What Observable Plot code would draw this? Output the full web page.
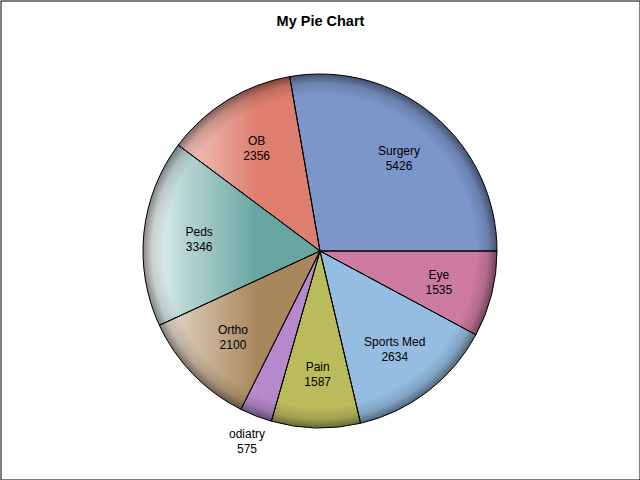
<!DOCTYPE html>
<html>
<head>
<meta charset="utf-8">
<script src="https://cdn.jsdelivr.net/npm/d3@7"></script>
<script src="https://cdn.jsdelivr.net/npm/@observablehq/plot@0.6"></script>
<style>
  body { margin: 0; background: #fff; }
  #chart { width: 640px; height: 480px; }
</style>
</head>
<body>
<div id="chart"></div>
<script>
const title = "My Pie Chart";
const categories = ["Surgery", "OB", "Peds", "Ortho", "odiatry", "Pain", "Sports Med", "Eye"];
const values = [5426, 2356, 3346, 2100, 575, 1587, 2634, 1535];
const colors = ["#7C95CA", "#DE7E6F", "#66A5A0", "#A9865B", "#B689CD", "#BABC5C", "#94BDE1", "#CD7BA1"];

const R = 177;          // pie radius in data units
const labelIn = 122;    // inside label radius
const labelOut = 203;   // outside label radius

const rows = categories.map((c, i) => ({category: c, value: values[i]}));
const total = d3.sum(values);
const arcs = d3.pie().sort(null).value(d => d.value)
  .startAngle(Math.PI / 2).endAngle(Math.PI / 2 - 2 * Math.PI)(rows);

const labels = arcs.map(a => {
  const mid = (a.startAngle + a.endAngle) / 2;
  const rl = a.data.value / total < 0.05 ? labelOut : labelIn;
  return {x: rl * Math.sin(mid), y: rl * Math.cos(mid), text: a.data.category + "\n" + a.data.value};
});

const color = d3.scaleOrdinal(categories, colors);

function pieMark(index, scales, values, dimensions, context) {
  const cx = scales.x(0), cy = scales.y(0);
  const r = scales.x(R) - scales.x(0);
  const g = d3.create("svg:g");
  const defs = g.append("defs");
  const hl = defs.append("linearGradient").attr("id", "pie-hl")
    .attr("gradientUnits", "userSpaceOnUse")
    .attr("x1", cx - r).attr("y1", cy).attr("x2", cx - 0.35 * r).attr("y2", cy);
  hl.append("stop").attr("offset", 0).attr("stop-color", "#fff").attr("stop-opacity", 0.95);
  hl.append("stop").attr("offset", 0.35).attr("stop-color", "#fff").attr("stop-opacity", 0.55);
  hl.append("stop").attr("offset", 1).attr("stop-color", "#fff").attr("stop-opacity", 0);
  const rim = defs.append("radialGradient").attr("id", "pie-rim")
    .attr("gradientUnits", "userSpaceOnUse")
    .attr("cx", cx).attr("cy", cy).attr("r", r);
  rim.append("stop").attr("offset", 0.88).attr("stop-color", "#000").attr("stop-opacity", 0);
  rim.append("stop").attr("offset", 0.95).attr("stop-color", "#000").attr("stop-opacity", 0.14);
  rim.append("stop").attr("offset", 0.975).attr("stop-color", "#000").attr("stop-opacity", 0.3);
  rim.append("stop").attr("offset", 1).attr("stop-color", "#000").attr("stop-opacity", 0.45);

  const arc = d3.arc().innerRadius(0).outerRadius(r);
  const pg = g.append("g").attr("transform", `translate(${cx},${cy})`);
  pg.selectAll("path").data(arcs).join("path")
    .attr("d", arc).attr("fill", d => color(d.data.category));
  g.append("circle").attr("cx", cx).attr("cy", cy).attr("r", r).attr("fill", "url(#pie-hl)");
  g.append("circle").attr("cx", cx).attr("cy", cy).attr("r", r).attr("fill", "url(#pie-rim)");
  const og = g.append("g").attr("transform", `translate(${cx},${cy})`);
  og.selectAll("path").data(arcs).join("path")
    .attr("d", arc).attr("fill", "none").attr("stroke", "#000")
    .attr("stroke-width", 1).attr("stroke-linejoin", "round");
  return g.node();
}

const chart = Plot.plot({
  width: 640,
  height: 480,
  margin: 0,
  style: {fontFamily: "'Liberation Sans', Arial, sans-serif", background: "#fff"},
  x: {domain: [-320, 320], range: [0, 640], axis: null},
  y: {domain: [-229, 251], range: [480, 0], axis: null},
  marks: [
    pieMark,
    Plot.text(labels, {x: "x", y: "y", text: "text", fontSize: 12, lineHeight: 1.25, fill: "#000"}),
    Plot.text([title], {frameAnchor: "top", dy: 15, fontSize: 14.5, fontWeight: "bold", fill: "#000"}),
    Plot.frame({stroke: "#000", inset: 0.5})
  ]
});
document.getElementById("chart").append(chart);
</script>
</body>
</html>
